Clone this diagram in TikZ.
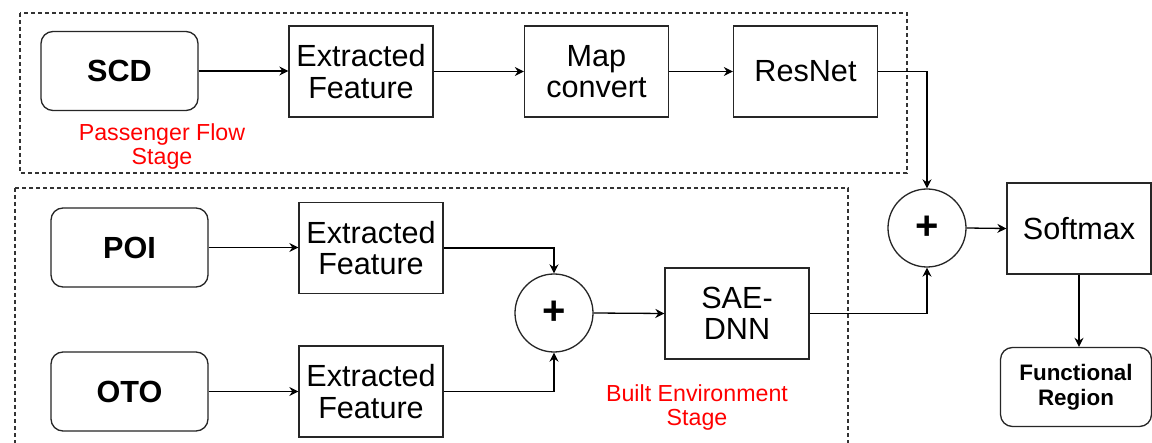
\documentclass[tikz,border=0pt]{standalone}
\usepackage{fontspec}
\setmainfont{Liberation Sans}
\usetikzlibrary{arrows.meta}
\tikzset{
  big/.style={font=\fontsize{15.3}{15.6}\selectfont},
  box/.style={draw=black!85, line width=0.65pt, rectangle, inner sep=0pt, align=center, big,
              minimum width=72pt, minimum height=45.5pt},
  src/.style={draw=black!85, line width=0.65pt, rounded corners=6pt, inner sep=0pt, align=center,
              font=\fontsize{15.3}{15.6}\selectfont\bfseries, minimum width=78.5pt, minimum height=39.5pt},
  sumnode/.style={draw=black!85, line width=0.65pt, circle, inner sep=0pt, minimum size=39pt,
              font=\fontsize{20}{20}\selectfont\bfseries},
  stage/.style={draw=black!80, line width=0.55pt, dash pattern=on 2pt off 1.5pt},
  lbl/.style={text=red, align=center, font=\fontsize{11.6}{12}\selectfont},
  conn/.style={draw=black, line width=0.65pt, -{Stealth[length=4.5pt,width=4.5pt]}},
}
\begin{document}
\begin{tikzpicture}[x=0.5pt,y=-0.5pt]
\clip (0,0) rectangle (1152,443);
\fill[white] (0,0) rectangle (1152,443);
% stage frames
\draw[stage] (20,13) rectangle (907,173);
\draw[stage] (15,188) rectangle (848,470);
% top row
\node[src] (scd) at (119.5,71) {SCD};
\node[box] (ef1) at (361,71.5) {Extracted\\Feature};
\node[box] (map) at (596.5,71.5) {Map\\convert};
\node[box] (res) at (805.5,71.5) {ResNet};
\node[lbl] (pfs) at (162,147) {Passenger Flow\\Stage};
% bottom rows
\node[src] (poi) at (129.5,247.5) {POI};
\node[box] (ef2) at (371,248) {Extracted\\Feature};
\node[src] (oto) at (129.5,391.5) {OTO};
\node[box] (ef3) at (371,391.5) {Extracted\\Feature};
\node[sumnode] (sum1) at (554,313) {+};
\node[box] (sae) at (737,313.5) {SAE-\\DNN};
\node[lbl] (bes) at (697,408) {Built Environment\\Stage};
% right side
\node[sumnode] (sum2) at (927,228) {+};
\node[box] (soft) at (1079,228.5) {Softmax};
\node[src, font=\fontsize{11.2}{12.5}\selectfont\bfseries, minimum width=75.5pt] (func) at (1076,387) {Functional\\Region};
% connectors
\draw[conn] (scd.east) -- (scd.east -| ef1.west);
\draw[conn] (ef1.east) -- (ef1.east -| map.west);
\draw[conn] (map.east) -- (map.east -| res.west);
\draw[conn] (res.east) -| (sum2.north);
\draw[conn] (poi.east) -- (poi.east -| ef2.west);
\draw[conn] (oto.east) -- (oto.east -| ef3.west);
\draw[conn] (ef2.east) -| (sum1.north);
\draw[conn] (ef3.east) -| (sum1.south);
\draw[conn] (sum1.east) -- (sae.west);
\draw[conn] (sae.east) -| (sum2.south);
\draw[conn] (sum2.east) -- (soft.west);
\draw[conn] (soft.south) -- (soft.south |- func.north);
\end{tikzpicture}
\end{document}
